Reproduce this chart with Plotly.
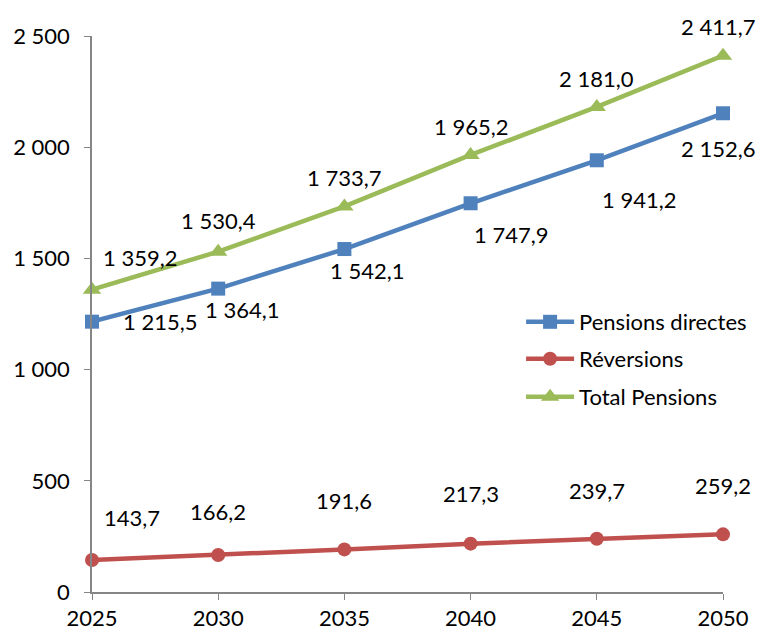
import plotly.graph_objects as go

years = [2025, 2030, 2035, 2040, 2045, 2050]
pensions_directes = [1215.5, 1364.1, 1542.1, 1747.9, 1941.2, 2152.6]
reversions = [143.7, 166.2, 191.6, 217.3, 239.7, 259.2]
total_pensions = [1359.2, 1530.4, 1733.7, 1965.2, 2181.0, 2411.7]
y_ticks = [0, 500, 1000, 1500, 2000, 2500]

def fr(v, dec=1):
    s = f"{v:,.{dec}f}"
    return s.replace(",", " ").replace(".", ",")

FONT = "Lato"
FS = 22
BLUE = "#4F81BD"
RED = "#C0504D"
GREEN = "#9BBB59"

fig = go.Figure()
fig.add_trace(go.Scatter(x=years, y=pensions_directes, name="Pensions directes",
                         mode="lines+markers", line=dict(color=BLUE, width=4.5),
                         marker=dict(symbol="square", size=14, color=BLUE),
                         cliponaxis=False, legend="legend"))
fig.add_trace(go.Scatter(x=years, y=reversions, name="Réversions",
                         mode="lines+markers", line=dict(color=RED, width=4.5),
                         marker=dict(symbol="circle", size=14, color=RED),
                         cliponaxis=False, legend="legend2"))
fig.add_trace(go.Scatter(x=years, y=total_pensions, name="Total Pensions",
                         mode="lines+markers", line=dict(color=GREEN, width=4.5),
                         marker=dict(symbol="triangle-up", size=16, color=GREEN),
                         cliponaxis=False, legend="legend3"))

# label offsets in pixels (dx, dy with dy positive = up)
off_blue = [(68, 0), (24, -21), (23, -21), (40, -31), (42, -39), (-5, -35)]
off_red = [(40, 43), (0, 44), (0, 49), (0, 50), (0, 48), (0, 49)]
off_green = [(48, 32), (0, 31), (0, 29), (0, 28), (0, 28), (-5, 29)]

ann = []
for vals, offs in [(pensions_directes, off_blue), (reversions, off_red), (total_pensions, off_green)]:
    for x, v, (dx, dy) in zip(years, vals, offs):
        ann.append(dict(x=x, y=v, xref="x", yref="y", text=fr(v), showarrow=False,
                        xshift=dx, yshift=dy, font=dict(family=FONT, size=FS, color="#000000")))

def leg(y):
    return dict(x=0.68, y=y, xanchor="left", yanchor="middle",
                font=dict(family=FONT, size=FS, color="#000000"),
                bgcolor="rgba(0,0,0,0)", itemwidth=48)

fig.update_layout(
    width=766, height=634,
    margin=dict(l=84, r=51, t=28, b=50, autoexpand=False),
    paper_bgcolor="white", plot_bgcolor="white",
    font=dict(family=FONT, size=FS, color="#000000"),
    annotations=ann,
    showlegend=True,
    legend=leg(0.4856),
    legend2=leg(0.4191),
    legend3=leg(0.3507),
    xaxis=dict(range=[2025, 2050], tickmode="array", tickvals=years,
               ticktext=[str(y) for y in years], showgrid=False, zeroline=False,
               showline=True, linecolor="#868686", linewidth=1.5,
               ticks="outside", ticklen=6, tickcolor="#868686",
               ticklabelstandoff=0, tickfont=dict(family=FONT, size=FS)),
    yaxis=dict(range=[0, 2500], tickmode="array", tickvals=y_ticks,
               ticktext=[fr(t, 0) for t in y_ticks], showgrid=False, zeroline=False,
               showline=True, linecolor="#868686", linewidth=1.5,
               ticks="outside", ticklen=6, tickcolor="#868686",
               ticklabelstandoff=10, tickfont=dict(family=FONT, size=FS)),
)

fig.write_html("out.html")
